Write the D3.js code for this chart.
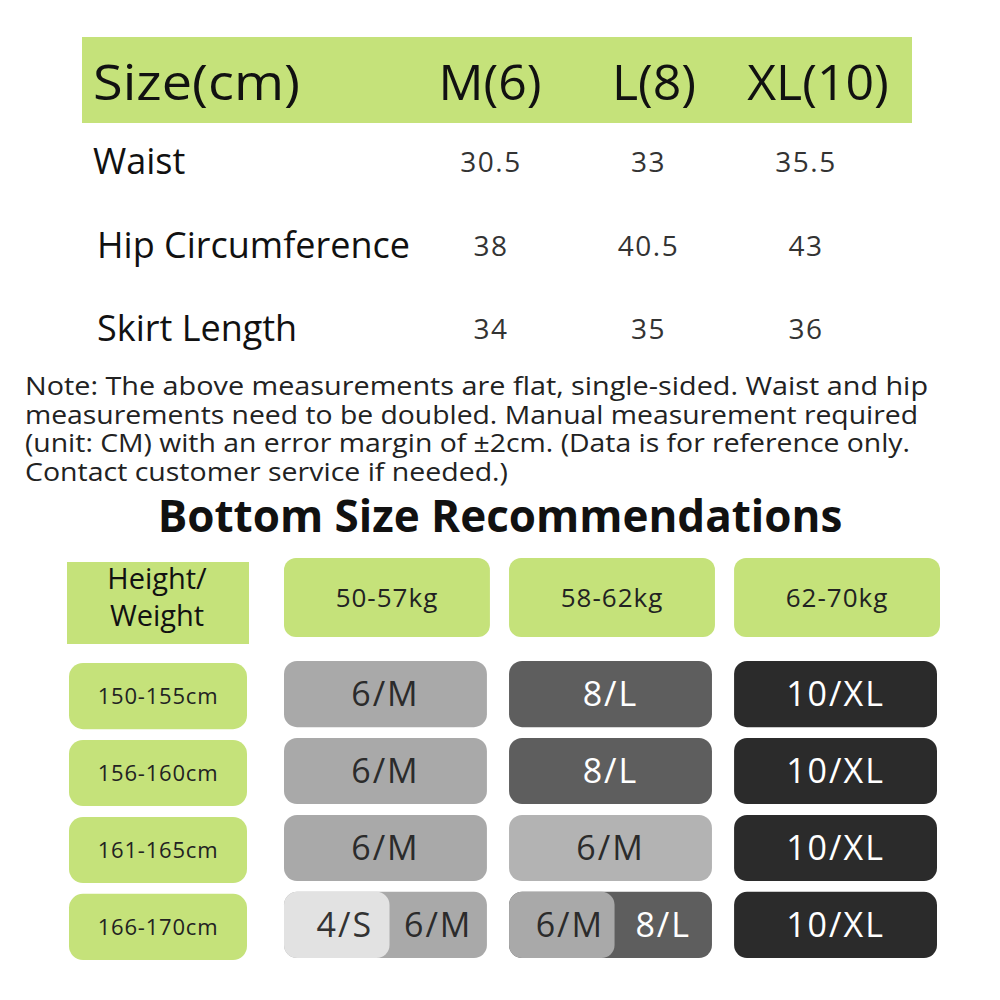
<!DOCTYPE html><html><head><meta charset="utf-8"><script src="https://cdn.jsdelivr.net/npm/d3@7"></script>
<style>body{margin:0;background:#fff}</style></head><body><svg id="c" width="1000" height="1000"></svg>
<script>
const sizes=["M(6)","L(8)","XL(10)"];
const measures=["Waist","Hip Circumference","Skirt Length"];
const values=[["30.5","33","35.5"],["38","40.5","43"],["34","35","36"]];
const noteLines=["Note: The above measurements are flat, single-sided. Waist and hip","measurements need to be doubled. Manual measurement required","(unit: CM) with an error margin of ±2cm. (Data is for reference only.","Contact customer service if needed.)"];
const noteWidths=[903,893,885,483];
const weights=["50-57kg","58-62kg","62-70kg"];
const heights=["150-155cm","156-160cm","161-165cm","166-170cm"];
const rec=[
 [[["6/M","m"]],[["8/L","d"]],[["10/XL","k"]]],
 [[["6/M","m"]],[["8/L","d"]],[["10/XL","k"]]],
 [[["6/M","m"]],[["6/M","m2"]],[["10/XL","k"]]],
 [[["4/S","l"],["6/M","m"]],[["6/M","m"],["8/L","d"]],[["10/XL","k"]]]
];
const tone={l:["#e2e2e2","#333"],m:["#a9a9a9","#2b2b2b"],m2:["#b3b3b3","#2b2b2b"],d:["#5e5e5e","#fff"],k:["#2b2b2b","#fff"]};
const green="#c5e27a";
const svg=d3.select("#c");const F="'Open Sans','Noto Sans',sans-serif";
svg.append("rect").attr("x",82).attr("y",37).attr("width",830).attr("height",86).attr("fill",green);
svg.append("text").attr("x",93).attr("y",100).attr("font-size",50).attr("font-family",F).attr("fill","#111").attr("textLength",207).attr("lengthAdjust","spacingAndGlyphs").text("Size(cm)");
const sx=d3.scalePoint().domain(sizes).range([490,818]);
svg.selectAll(".sz").data(sizes).join("text").attr("x",d=>sx(d)).attr("y",100).attr("text-anchor","middle").attr("font-size",50).attr("font-family",F).attr("fill","#111").text(d=>d);
const vx=d3.scalePoint().domain([0,1,2]).range([491,806]);
const ry=d3.scalePoint().domain(measures).range([174,341]);
measures.forEach((m,i)=>{
 svg.append("text").attr("x",i==0?93:97).attr("y",ry(m)).attr("font-size",36).attr("font-family",F).attr("fill","#111").text(m);
 values[i].forEach((v,j)=>svg.append("text").attr("x",vx(j)).attr("y",ry(m)-2).attr("text-anchor","middle").attr("font-size",28).attr("font-family",F).attr("letter-spacing",1.5).attr("fill","#333").text(v));
});
noteLines.forEach((t,i)=>svg.append("text").attr("x",25).attr("y",395+i*28.5).attr("font-size",25).attr("font-family",F).attr("fill","#222").attr("textLength",noteWidths[i]).attr("lengthAdjust","spacingAndGlyphs").text(t));
svg.append("text").attr("x",500).attr("y",532).attr("text-anchor","middle").attr("font-size",44).attr("font-weight","bold").attr("font-family",F).attr("fill","#111").text("Bottom Size Recommendations");
svg.append("rect").attr("x",67).attr("y",562).attr("width",182).attr("height",82).attr("fill",green);
["Height/","Weight"].forEach((t,i)=>svg.append("text").attr("x",157).attr("y",589+i*37).attr("text-anchor","middle").attr("font-size",29).attr("font-family",F).attr("fill","#111").text(t));
const cx=d3.scaleBand().domain([0,1,2]).range([284,940]).paddingInner(0.085);
weights.forEach((w,j)=>{
 svg.append("rect").attr("x",cx(j)).attr("y",558).attr("width",cx.bandwidth()).attr("height",79).attr("rx",12).attr("fill",green);
 svg.append("text").attr("x",cx(j)+cx.bandwidth()/2).attr("y",607).attr("text-anchor","middle").attr("font-size",26).attr("font-family",F).attr("letter-spacing",1).attr("fill","#222").text(w);
});
const hy=d3.scaleBand().domain([0,1,2,3]).range([661,958]).paddingInner(0.14);
heights.forEach((h,i)=>{
 const y=hy(i),bh=hy.bandwidth();
 svg.append("rect").attr("x",69).attr("y",y+2).attr("width",178).attr("height",bh).attr("rx",14).attr("fill",green);
 svg.append("text").attr("x",158).attr("y",y+bh/2+10).attr("text-anchor","middle").attr("font-size",22).attr("font-family",F).attr("letter-spacing",0.8).attr("fill","#222").text(h);
 rec[i].forEach((parts,j)=>{
  const x0=cx(j),w=cx.bandwidth()-3;
  const T=(x,lab,t)=>svg.append("text").attr("x",x).attr("y",y+bh/2+12).attr("text-anchor","middle").attr("font-size",34).attr("font-family",F).attr("letter-spacing",2).attr("fill",tone[t][1]).text(lab);
  if(parts.length==1){
   const [lab,t]=parts[0];
   svg.append("rect").attr("x",x0).attr("y",y).attr("width",w).attr("height",bh).attr("rx",13).attr("fill",tone[t][0]);
   T(x0+w/2,lab,t);
  } else {
   svg.append("rect").attr("x",x0).attr("y",y).attr("width",w).attr("height",bh).attr("rx",13).attr("fill",tone[parts[1][1]][0]);
   svg.append("rect").attr("x",x0).attr("y",y).attr("width",w*0.52).attr("height",bh).attr("rx",13).attr("fill",tone[parts[0][1]][0]);
   T(x0+w*0.3,parts[0][0],parts[0][1]);
   T(x0+w*0.76,parts[1][0],parts[1][1]);
  }
 });
});
</script></body></html>
